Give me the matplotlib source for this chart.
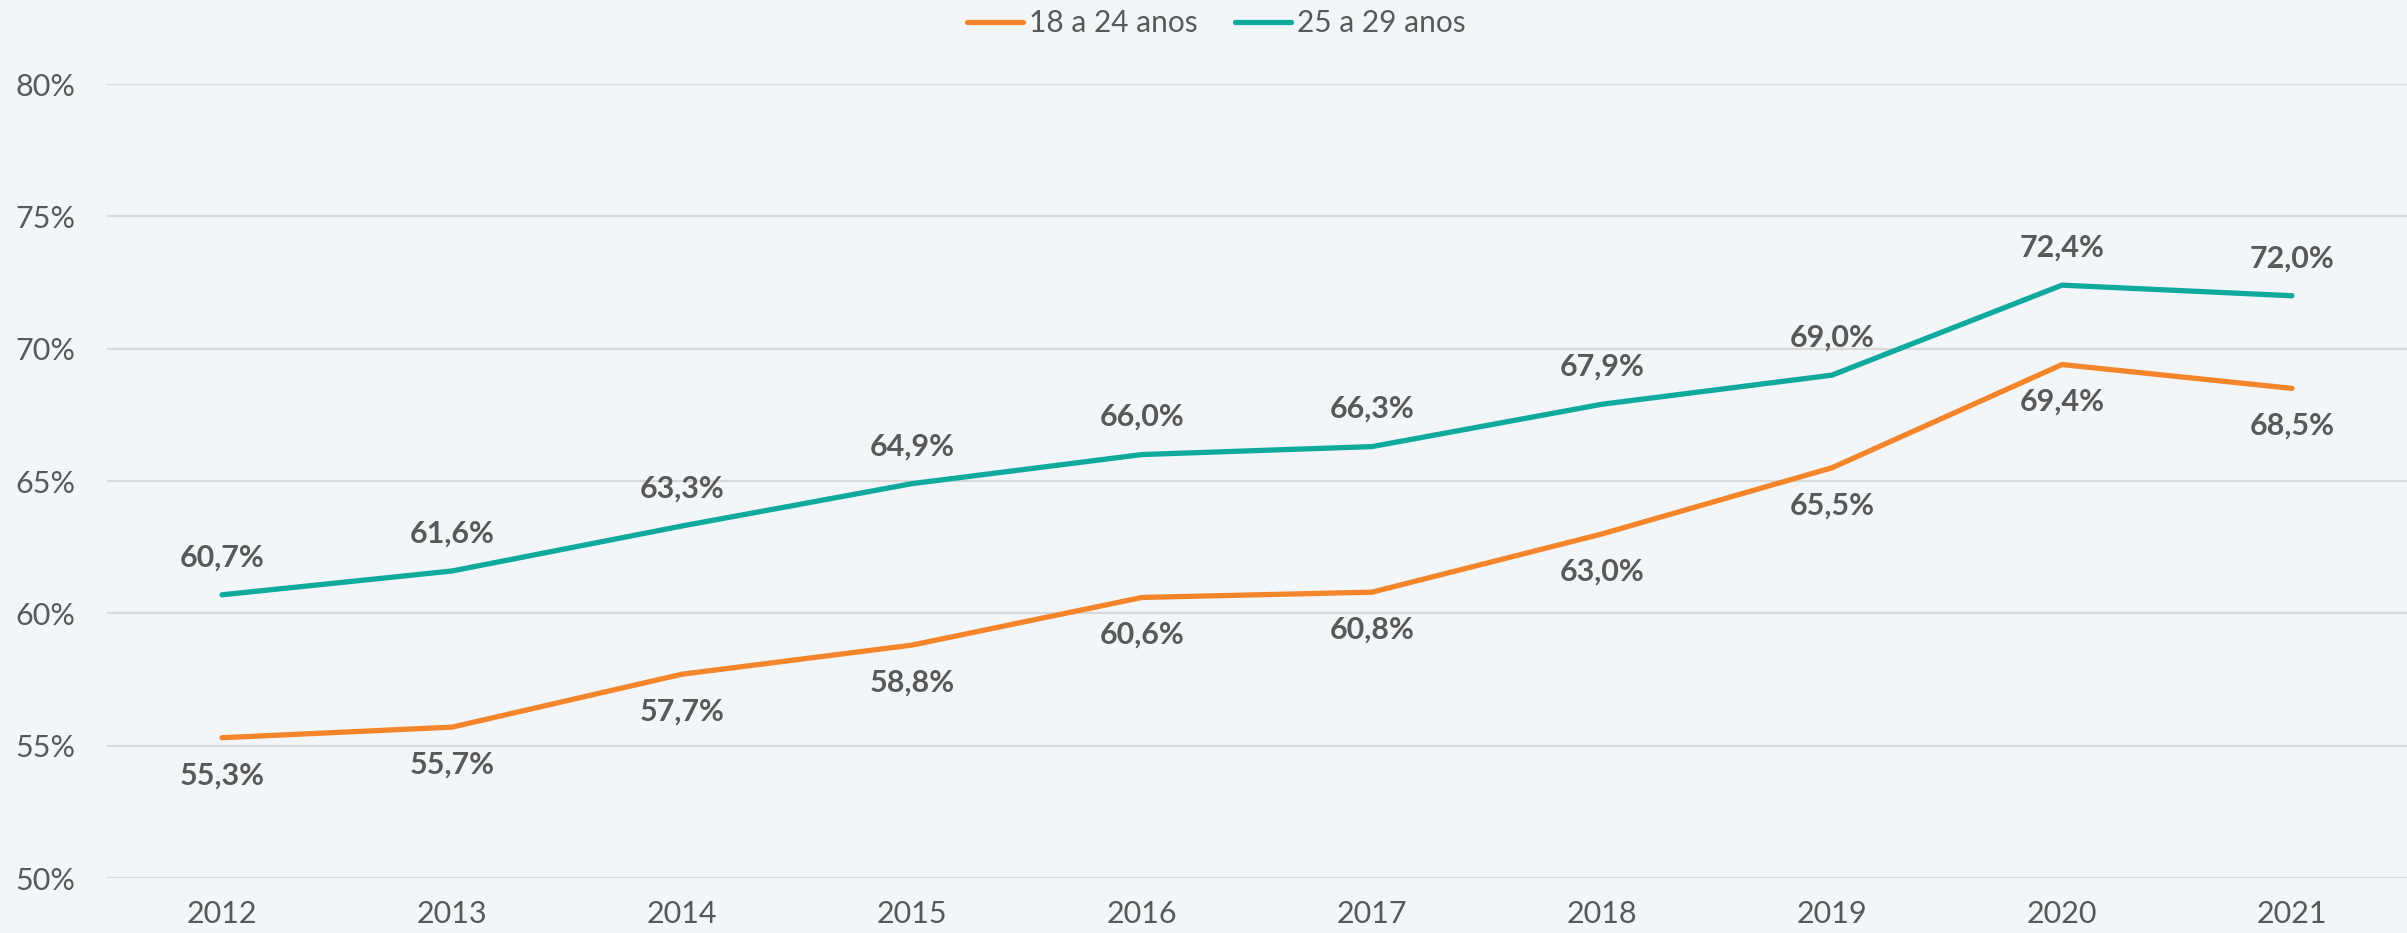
import matplotlib
matplotlib.use("Agg")
import matplotlib.pyplot as plt

# dados (%)
anos = ["2012", "2013", "2014", "2015", "2016", "2017", "2018", "2019", "2020", "2021"]
jovens_18_24 = [55.3, 55.7, 57.7, 58.8, 60.6, 60.8, 63.0, 65.5, 69.4, 68.5]
jovens_25_29 = [60.7, 61.6, 63.3, 64.9, 66.0, 66.3, 67.9, 69.0, 72.4, 72.0]
y_ticks = [50, 55, 60, 65, 70, 75, 80]
serie_nomes = ["18 a 24 anos", "25 a 29 anos"]

BG = "#F3F6F9"
TXT = "#595959"
LARANJA = "#F5852A"
VERDE = "#10A99D"

plt.rcParams["font.family"] = ["Lato", "DejaVu Sans"]

fig = plt.figure(figsize=(24.07, 9.33), dpi=100, facecolor=BG)
ax = fig.add_axes([107 / 2407, 55 / 933, 1 - 107 / 2407, (878 - 84) / 933])
ax.set_facecolor(BG)

x = list(range(len(anos)))
ax.plot(x, jovens_18_24, color=LARANJA, lw=3.8, solid_capstyle="round",
        solid_joinstyle="miter", label=serie_nomes[0], zorder=3)
ax.plot(x, jovens_25_29, color=VERDE, lw=3.8, solid_capstyle="round",
        solid_joinstyle="miter", label=serie_nomes[1], zorder=3)


def fmt(v):
    return ("%.1f" % v).replace(".", ",") + "%"


for xi, v in zip(x, jovens_18_24):
    ax.annotate(fmt(v), (xi, v), xytext=(0, -27), textcoords="offset points",
                ha="center", va="center", fontsize=22, fontweight="bold", color=TXT)
for xi, v in zip(x, jovens_25_29):
    ax.annotate(fmt(v), (xi, v), xytext=(0, 27), textcoords="offset points",
                ha="center", va="center", fontsize=22, fontweight="bold", color=TXT)

ax.set_xlim(-0.5, len(anos) - 0.5)
ax.set_ylim(50, 80)
ax.set_xticks(x)
ax.set_xticklabels(anos)
ax.set_yticks(y_ticks)
ax.set_yticklabels([f"{t}%" for t in y_ticks])
ax.tick_params(axis="both", length=0, labelsize=22, labelcolor=TXT)
ax.tick_params(axis="x", pad=16)
ax.tick_params(axis="y", pad=23)
for lbl in ax.get_yticklabels():
    lbl.set_horizontalalignment("right")

ax.yaxis.grid(True, color="#D9D9D9", lw=1.6)
ax.set_axisbelow(True)
for s in ax.spines.values():
    s.set_visible(False)

fig.legend(loc="center", bbox_to_anchor=(0.5054, 1 - 23 / 933), ncol=2,
           frameon=False, fontsize=21.5, labelcolor=TXT, handlelength=1.87,
           handletextpad=0.2, columnspacing=1.27, borderaxespad=0)

fig.savefig("out.png", dpi=100, facecolor=BG)
